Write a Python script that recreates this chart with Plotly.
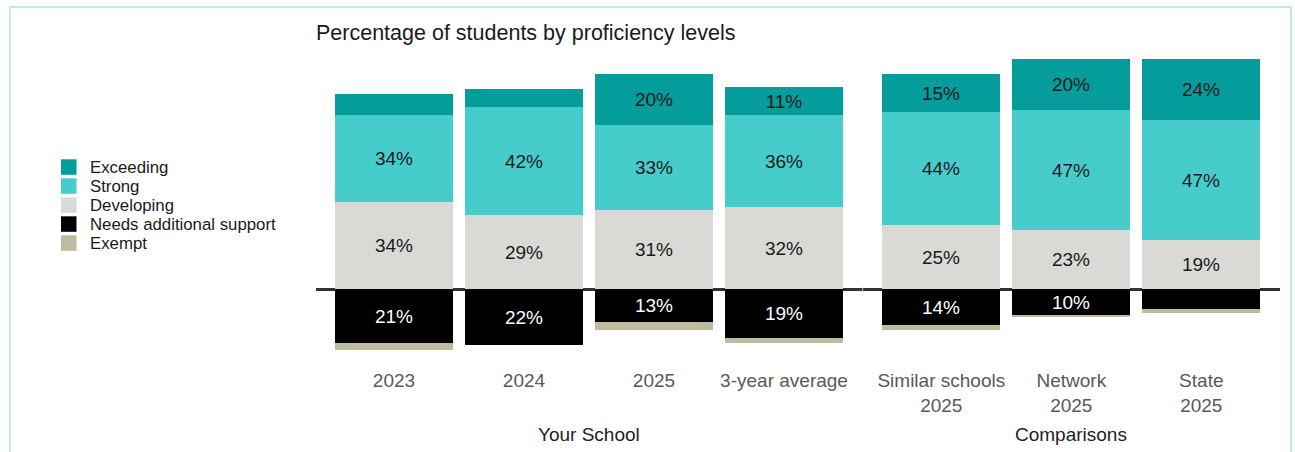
import plotly.graph_objects as go

# ---------------- data ----------------
categories = ["2023", "2024", "2025", "3-year average",
              "Similar schools<br>2025", "Network<br>2025", "State<br>2025"]
groups = ["Your School", "Your School", "Your School", "Your School",
          "Comparisons", "Comparisons", "Comparisons"]
exceeding = [8, 7, 20, 11, 15, 20, 24]
strong = [34, 42, 33, 36, 44, 47, 47]
developing = [34, 29, 31, 32, 25, 23, 19]
needs_support = [21, 22, 13, 19, 14, 10, 8]
exempt = [3, 0, 3, 2, 2, 1, 1.5]

level_names = ["Exceeding", "Strong", "Developing", "Needs additional support", "Exempt"]
level_colors = ["#059c9c", "#47cccc", "#d9dad6", "#000000", "#bfbb9e"]
title_text = "Percentage of students by proficiency levels"

# ---------------- layout geometry ----------------
W, H = 1295, 452
L, R, T, B = 316, 1280, 54, 361        # plot area in px
ZERO_PX, PX_PER_PCT = 289, 2.56
UNIT_PX = 130                           # px per category slot
GROUP_GAP = 0.21                        # extra gap between groups (slots)

y_top = (ZERO_PX - T) / PX_PER_PCT
y_bot = -(B - ZERO_PX) / PX_PER_PCT
first_center_px = 394
x_left = -(first_center_px - L) / UNIT_PX
x_right = x_left + (R - L) / UNIT_PX

def px_x(px):
    return (px - L) / (R - L)

def px_y(px):
    return (B - px) / (B - T)

group_order = list(dict.fromkeys(groups))
xpos = [i + GROUP_GAP * group_order.index(g) for i, g in enumerate(groups)]

FONT = "Liberation Sans, Arial, sans-serif"

def labels(vals):
    return [f"{v:g}%" if v >= 10 else "" for v in vals]

fig = go.Figure()
stack = [
    ("Developing", developing, 1, "#1a1a1a"),
    ("Strong", strong, 1, "#1a1a1a"),
    ("Exceeding", exceeding, 1, "#1a1a1a"),
    ("Needs additional support", needs_support, -1, "#ffffff"),
    ("Exempt", exempt, -1, "#1a1a1a"),
]
for name, vals, sign, tcolor in stack:
    fig.add_trace(go.Bar(
        name=name,
        x=xpos,
        y=[sign * v for v in vals],
        width=0.908,
        marker=dict(color=level_colors[level_names.index(name)], line=dict(width=0)),
        text=labels(vals) if name != "Exempt" else None,
        textposition="inside",
        insidetextanchor="middle",
        textangle=0,
        insidetextfont=dict(family=FONT, size=19, color=tcolor),
        showlegend=False,
        hoverinfo="skip",
    ))

# ---------- legend (swatches + text) ----------
shapes = []
annotations = []
leg_x0, sw = 61, 15.5
leg_y0, step = 159.3, 19
for i, (nm, col) in enumerate(zip(level_names, level_colors)):
    y0 = leg_y0 + i * step
    shapes.append(dict(type="rect", xref="paper", yref="paper",
                       x0=px_x(leg_x0), x1=px_x(leg_x0 + sw),
                       y0=px_y(y0 + sw), y1=px_y(y0),
                       fillcolor=col, line=dict(width=0)))
    annotations.append(dict(xref="paper", yref="paper", x=px_x(87.5), y=px_y(y0 + sw / 2),
                            xanchor="left", yanchor="middle", showarrow=False,
                            text=nm, font=dict(family=FONT, size=16.8, color="#1a1a1a")))

# group labels
for g in group_order:
    idx = [xpos[i] for i in range(len(groups)) if groups[i] == g]
    annotations.append(dict(xref="x", yref="paper", x=(min(idx) + max(idx)) / 2,
                            y=px_y(434), xanchor="center", yanchor="middle",
                            showarrow=False, text=g,
                            font=dict(family=FONT, size=19, color="#222222")))

# small separator tick between groups on the zero line
sep_x = (xpos[3] + xpos[4]) / 2
shapes.append(dict(type="line", xref="x", yref="y", x0=sep_x, x1=sep_x,
                   y0=-1.2, y1=0.6, line=dict(color="#bbbbbb", width=1)))

# frame
shapes.append(dict(type="rect", xref="paper", yref="paper",
                   x0=px_x(10), x1=px_x(1291), y0=px_y(470), y1=px_y(7),
                   line=dict(color="#bfeaea", width=2), fillcolor="rgba(0,0,0,0)",
                   layer="below"))

fig.update_layout(
    width=W, height=H,
    margin=dict(l=L, r=W - R, t=T, b=H - B, pad=0),
    barmode="relative",
    bargap=0,
    paper_bgcolor="white",
    plot_bgcolor="white",
    showlegend=False,
    uniformtext=dict(minsize=19, mode="show"),
    title=dict(text=title_text, x=px_x(316), xref="paper", xanchor="left",
               y=1 - 32 / H, yref="container", yanchor="middle",
               font=dict(family=FONT, size=21.5, color="#1a1a1a")),
    xaxis=dict(range=[x_left, x_right], tickvals=xpos, ticktext=categories,
               showgrid=False, zeroline=False, showline=False, ticks="",
               ticklabelstandoff=6,
               tickfont=dict(family=FONT, size=19, color="#595959"),
               fixedrange=True),
    yaxis=dict(range=[y_bot, y_top], showgrid=False, showticklabels=False,
               zeroline=True, zerolinecolor="#333333", zerolinewidth=2.5,
               ticks="", showline=False, fixedrange=True),
    shapes=shapes,
    annotations=annotations,
    font=dict(family=FONT),
)

fig.write_html("out.html")
